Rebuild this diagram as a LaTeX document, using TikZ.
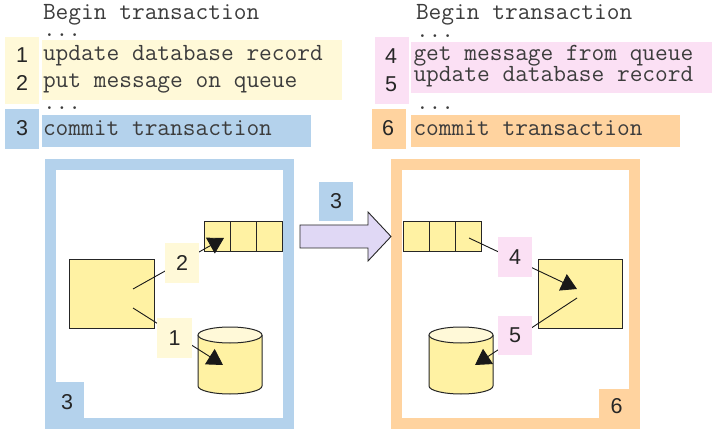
\documentclass[tikz,border=0pt]{standalone}
\usepackage{fontspec}
\usepackage{xcolor}
\usepackage{tikz}
\usetikzlibrary{arrows.meta}
\setmainfont{Liberation Sans}
\definecolor{paleyellow}{HTML}{FFF9D8}
\definecolor{storeyellow}{HTML}{FFF2A3}
\definecolor{txblue}{HTML}{B4D2EC}
\definecolor{txorange}{HTML}{FFD39F}
\definecolor{palepink}{HTML}{FBE0F4}
\definecolor{lilac}{HTML}{E0D8F5}
\definecolor{inktext}{HTML}{3C3C3C}
\tikzset{
    tag/.style={inner sep=0pt, outer sep=0pt, text=black!85, font=\fontsize{21.5}{21.5}\selectfont},
    band/.style={anchor=north west, inner sep=0pt, outer sep=0pt},
    code/.style={anchor=base west, inner sep=0pt, outer sep=0pt, text=inktext, font=\ttfamily\fontsize{24.7}{24.7}\selectfont},
    frame/.style={draw, line width=11pt, inner sep=0pt, outer sep=0pt, minimum height=258pt},
    store/.style={draw=black!85, line width=1pt, fill=storeyellow, inner sep=0pt, outer sep=0pt},
    flow/.style={line width=0.9pt, draw=black!90},
    flowhead/.style={flow, -{Triangle[length=15.6pt,width=18pt]}}
}
\begin{document}
\begin{tikzpicture}[x=1pt,y=-1pt]
        \useasboundingbox (0,0) rectangle (712,430);

        % listing, left
        \node[band, fill=paleyellow, minimum width=300pt, minimum height=60pt] (Work-Band-L) at (42,40) {};
        \node[band, fill=txblue, minimum width=269pt, minimum height=32pt] (Commit-Band-L) at (42,115) {};
        \node[band, fill=paleyellow, minimum width=34pt, minimum height=67pt] (Step-Band-L) at (5,37) {};
        \node[band, fill=txblue, minimum width=34pt, minimum height=40pt] (Commit-Tag-L) at (5,109) {};
        \node[code] (Begin-L) at (43,20) {Begin transaction};
        \node[code] (Dots-L-1) at (43,37) {...};
        \node[code] (Update-L) at (43,61) {update database record};
        \node[code] (Put-L) at (43,88) {put message on queue};
        \node[code] (Dots-L-2) at (43,110) {...};
        \node[code] (Commit-L) at (43,136) {commit transaction};
        \node[tag] (Num-1) at (22,55) {1};
        \node[tag] (Num-2) at (22,83) {2};
        \node[tag] (Num-3) at (22,128) {3};

        % listing, right
        \node[band, fill=palepink, minimum width=301pt, minimum height=51pt] (Work-Band-R) at (411,42) {};
        \node[band, fill=txorange, minimum width=269pt, minimum height=32pt] (Commit-Band-R) at (411,115) {};
        \node[band, fill=palepink, minimum width=34pt, minimum height=67pt] (Step-Band-R) at (375,37) {};
        \node[band, fill=txorange, minimum width=34pt, minimum height=40pt] (Commit-Tag-R) at (372,109) {};
        \node[code] (Begin-R) at (416,20) {Begin transaction};
        \node[code] (Dots-R-1) at (416,38) {...};
        \node[code] (Get-R) at (413.5,61) {get message from queue};
        \node[code] (Update-R) at (413.5,82) {update database record};
        \node[code] (Dots-R-2) at (416,110) {...};
        \node[code] (Commit-R) at (413.5,136) {commit transaction};
        \node[tag] (Num-4) at (391,56) {4};
        \node[tag] (Num-5) at (391,84) {5};
        \node[tag] (Num-6) at (388,128) {6};

        % the two systems
        \node[frame, draw=txblue, minimum width=238pt] (System-L) at (169,294) {};
        \node[frame, draw=txorange, minimum width=238pt] (System-R) at (515.5,294) {};
        \node[tag, fill=txblue, minimum width=34pt, minimum height=41pt] (Tag-System-L) at (67,402.5) {3};
        \node[tag, fill=txorange, minimum width=35pt, minimum height=34pt] (Tag-System-R) at (616.5,406) {6};

        % transfer arrow
        \draw[line width=0.9pt, draw=black!85, fill=lilac] (300,225) -- (368,225) -- (368,212) -- (391,236.5) -- (368,261) -- (368,248) -- (300,248) -- cycle;
        \node[tag, fill=txblue, minimum width=34pt, minimum height=39pt] (Tag-Move) at (336,201.5) {3};

        % left system
        \node[store, minimum width=85pt, minimum height=68pt] (App-L) at (111.5,294) {};
        \node[store, minimum width=26pt, minimum height=30pt] (Queue-L-1) at (217,237) {};
        \node[store, minimum width=26pt, minimum height=30pt] (Queue-L-2) at (243,237) {};
        \node[store, minimum width=26pt, minimum height=30pt] (Queue-L-3) at (269,237) {};
        \draw[store] (198,335) -- (198,386) arc[start angle=180, end angle=360, x radius=32pt, y radius=8pt] -- (262,335);
        \draw[store, fill=paleyellow] (230,335) ellipse[x radius=32pt, y radius=8pt];

        % right system
        \node[store, minimum width=84pt, minimum height=68pt] (App-R) at (580,294) {};
        \node[store, minimum width=26pt, minimum height=30pt] (Queue-R-1) at (416,237) {};
        \node[store, minimum width=26pt, minimum height=30pt] (Queue-R-2) at (442,237) {};
        \node[store, minimum width=26pt, minimum height=30pt] (Queue-R-3) at (468,237) {};
        \draw[store] (429,335) -- (429,386) arc[start angle=180, end angle=360, x radius=32pt, y radius=8pt] -- (493,335);
        \draw[store, fill=paleyellow] (461,335) ellipse[x radius=32pt, y radius=8pt];

        \coordinate (App-L-Out-1) at (133,308);
        \coordinate (App-L-Out-2) at (133,289);
        \coordinate (Db-L-In) at (223,365);
        \coordinate (Queue-L-In) at (224,238);
        \coordinate (Queue-R-Out) at (469,238);
        \coordinate (App-R-In) at (577,289);
        \coordinate (App-R-Out) at (577,298);
        \coordinate (Db-R-In) at (475,365);

        \draw[flowhead] (App-L-Out-1) -- (Db-L-In);
        \draw[flowhead] (App-L-Out-2) -- (Queue-L-In);
        \draw[flowhead] (Queue-R-Out) -- (App-R-In);
        \draw[flowhead] (App-R-Out) -- (Db-R-In);

        \node[tag, fill=paleyellow, minimum width=35pt, minimum height=40pt] (Tag-1) at (174.5,338) {1};
        \node[tag, fill=paleyellow, minimum width=34pt, minimum height=40pt] (Tag-2) at (182,263) {2};
        \node[tag, fill=palepink, minimum width=34pt, minimum height=40pt] (Tag-4) at (515,257) {4};
        \node[tag, fill=palepink, minimum width=34pt, minimum height=39pt] (Tag-5) at (515,335.5) {5};
    \end{tikzpicture}
\end{document}
